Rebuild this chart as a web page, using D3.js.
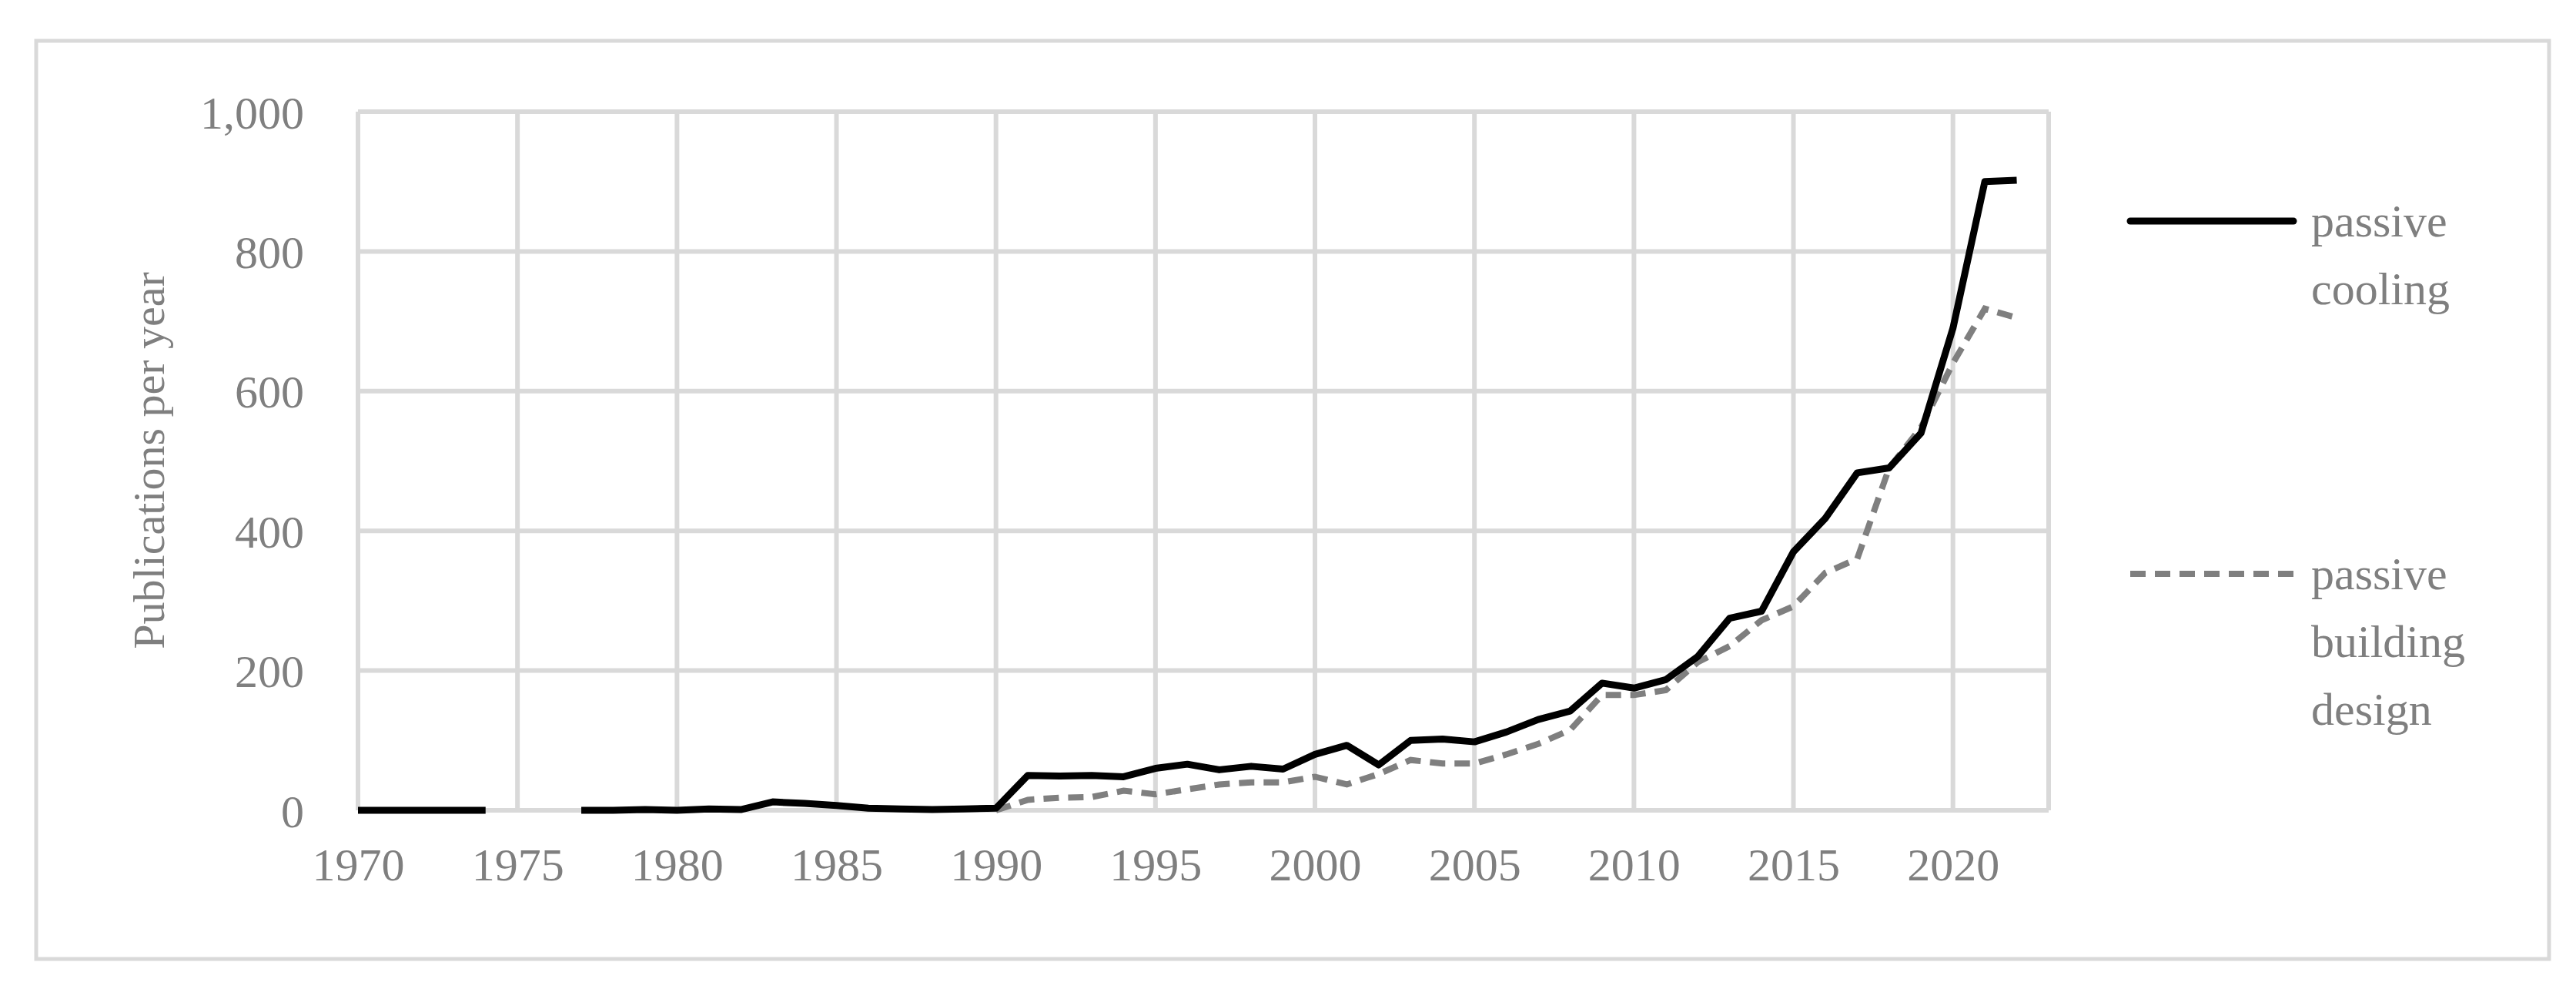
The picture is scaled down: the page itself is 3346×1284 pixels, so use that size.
<!DOCTYPE html>
<html><head><meta charset="utf-8">
<script src="https://cdn.jsdelivr.net/npm/d3@7"></script>
<style>body{margin:0;background:#fff}</style></head>
<body><svg id="c" width="3346" height="1284"></svg>
<script>
const years = d3.range(1970, 2023);
const coolingValues = [0,0,0,0,0,null,null,0,0,1,0,2,1,12,10,7,3,2,1,2,3,50,49,50,48,60,66,58,63,59,80,93,65,100,102,98,112,130,142,182,175,187,220,275,285,370,418,483,490,540,690,900,902];
const designValues = [null,null,null,null,null,null,null,null,null,null,null,null,null,null,null,null,null,null,null,null,0,15,18,19,28,23,30,37,40,40,48,37,52,72,67,67,80,95,115,165,165,172,212,235,272,292,340,360,490,548,640,718,705];
const xTicks = d3.range(1970, 2021, 5);
const yTicks = [0,200,400,600,800,1000];
const seriesNames = ["passive cooling","passive building design"];

const svg = d3.select("#c");
const font = "'Liberation Serif', 'DejaVu Serif', serif";
const grey = "#7f7f7f", grid = "#d9d9d9";
svg.append("rect").attr("x",47).attr("y",53).attr("width",3264).attr("height",1192)
  .attr("fill","none").attr("stroke",grid).attr("stroke-width",5);

const x = d3.scaleLinear().domain([1970,2023]).range([465,2661]);
const y = d3.scaleLinear().domain([0,1000]).range([1052,145]);

const g = svg.append("g");
// vertical grid
g.selectAll(".vg").data(xTicks.concat([2023])).enter().append("line")
  .attr("x1",d=>x(d)).attr("x2",d=>x(d)).attr("y1",y(1000)).attr("y2",y(0))
  .attr("stroke",grid).attr("stroke-width",6);
g.selectAll(".hg").data(yTicks).enter().append("line")
  .attr("x1",x(1970)).attr("x2",x(2023)).attr("y1",d=>y(d)).attr("y2",d=>y(d))
  .attr("stroke",grid).attr("stroke-width",6);

// axes
const xa = svg.append("g").attr("transform",`translate(0,${y(0)})`)
  .call(d3.axisBottom(x).tickValues(xTicks).tickFormat(d3.format("d")).tickSize(0).tickPadding(70));
const ya = svg.append("g").attr("transform",`translate(${x(1970)},0)`)
  .call(d3.axisLeft(y).tickValues(yTicks).tickSize(0).tickPadding(70));
[xa,ya].forEach(a=>{a.select(".domain").remove();
  a.selectAll("text").attr("font-family",font).attr("font-size",60).attr("fill",grey);});
ya.selectAll("text").attr("dy","0.35em");
xa.selectAll("text").attr("dy","0.35em");

svg.append("text").attr("transform","translate(213,598) rotate(-90)")
  .attr("text-anchor","middle").attr("font-family",font).attr("font-size",58).attr("fill",grey)
  .text("Publications per year");

const line = vals => d3.line().defined((d,i)=>vals[i]!==null)
  .x((d,i)=>x(years[i])).y((d,i)=>y(vals[i]))(vals);
svg.append("path").attr("d",line(designValues)).attr("fill","none")
  .attr("stroke",grey).attr("stroke-width",8).attr("stroke-dasharray","20,12");
svg.append("path").attr("d",line(coolingValues)).attr("fill","none")
  .attr("stroke","#000").attr("stroke-width",9).attr("stroke-linejoin","round");

// legend
const legend = [
  {name:seriesNames[0], lines:["passive","cooling"], y:287, color:"#000", dash:null, w:9},
  {name:seriesNames[1], lines:["passive","building","design"], y:745, color:grey, dash:"20,12", w:8}
];
legend.forEach(l=>{
  svg.append("line").attr("x1",2767).attr("x2",2979).attr("y1",l.y).attr("y2",l.y)
    .attr("stroke",l.color).attr("stroke-width",l.w).attr("stroke-dasharray",l.dash)
    .attr("stroke-linecap",l.dash?"butt":"round");
  const t = svg.append("text").attr("x",3002).attr("y",l.y+20)
    .attr("font-family",font).attr("font-size",60).attr("fill",grey);
  l.lines.forEach((s,i)=>t.append("tspan").attr("x",3002).attr("dy",i?88:0).text(s));
});
</script></body></html>
